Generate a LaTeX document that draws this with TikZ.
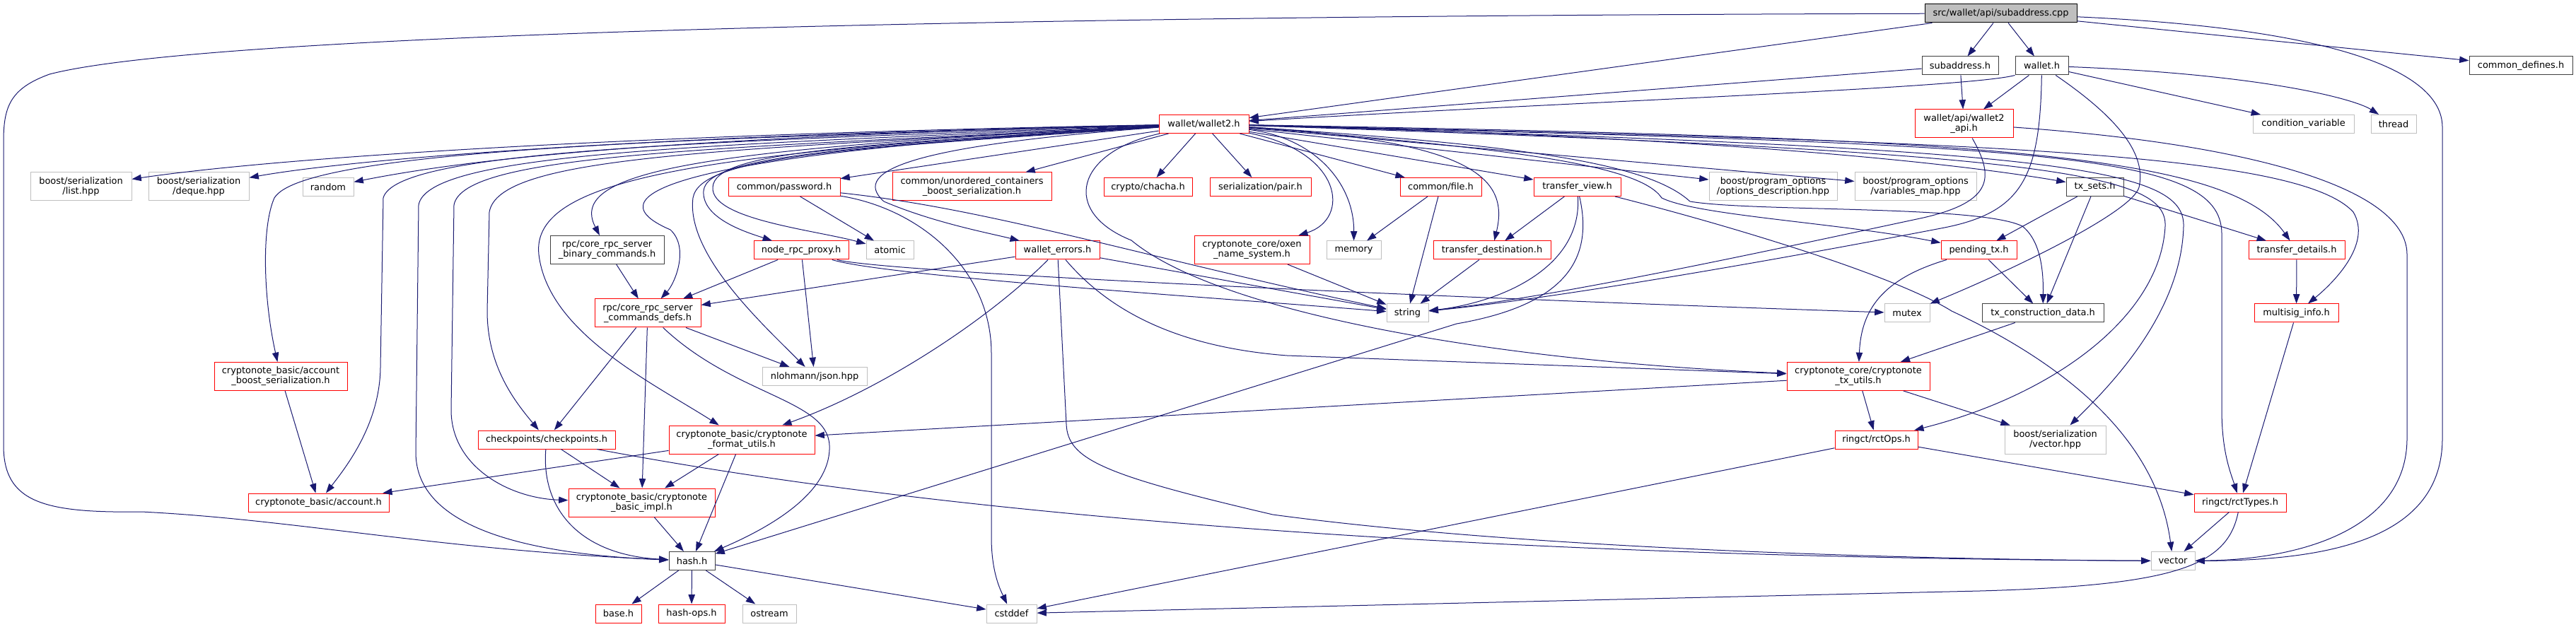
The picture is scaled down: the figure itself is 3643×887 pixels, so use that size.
\documentclass[tikz,border=0pt]{standalone}
\usepackage{fontspec}
\setmainfont{DejaVu Sans}
\usepackage{xcolor}
\usepackage{tikz}
\usetikzlibrary{arrows.meta}
\definecolor{edgeblue}{HTML}{191970}
\definecolor{boxgrey}{HTML}{404040}
\definecolor{extgrey}{HTML}{BFBFBF}

\begin{document}
\begin{tikzpicture}[x=0.75pt, y=-0.75pt,
    box/.style={draw=boxgrey, line width=0.75pt, fill=white, inner sep=0pt,
      minimum height=19.5pt, align=center, font=\fontsize{9.7}{10.5}\selectfont},
    trunc/.style={box, draw=red},
    ext/.style={box, draw=extgrey},
    root/.style={box, draw=black, fill=extgrey},
    tall/.style={minimum height=30pt},
    link/.style={-{Triangle[length=10pt, width=7pt]}, line width=0.75pt, draw=edgeblue}]
\useasboundingbox (0,0) rectangle (3643,887);
\node[root, minimum width=161.25pt] (cpp) at (2829.5,19) {src/wallet/api/subaddress.cpp};
\node[box, minimum width=81pt] (subh) at (2772,93) {subaddress.h};
\node[box, minimum width=56.25pt] (walh) at (2887.5,93) {wallet.h};
\node[box, minimum width=109.5pt] (cdefs) at (3565,93) {common\_defines.h};
\node[trunc, tall, minimum width=104.25pt] (wapi) at (2777.5,175) {wallet/api/wallet2\\\_api.h};
\node[ext, minimum width=107.25pt] (condvar) at (3257.5,175.5) {condition\_variable};
\node[ext, minimum width=48pt] (thread) at (3385,175.5) {thread};
\node[trunc, minimum width=95.25pt] (wal2) at (1702.5,175.5) {wallet/wallet2.h};
\node[ext, tall, minimum width=107.25pt] (slist) at (114.5,264) {boost/serialization\\/list.hpp};
\node[ext, tall, minimum width=106.5pt] (sdeque) at (281,264) {boost/serialization\\/deque.hpp};
\node[ext, minimum width=54pt] (random) at (464,264.5) {random};
\node[trunc, minimum width=118.5pt] (passwd) at (1109,264.5) {common/password.h};
\node[trunc, tall, minimum width=168.75pt] (unord) at (1374.5,264) {common/unordered\_containers\\\_boost\_serialization.h};
\node[trunc, minimum width=93.75pt] (chacha) at (1623.5,264.5) {crypto/chacha.h};
\node[trunc, minimum width=107.25pt] (pair) at (1782.5,264.5) {serialization/pair.h};
\node[trunc, minimum width=86.25pt] (cfile) at (2037.5,264.5) {common/file.h};
\node[trunc, minimum width=92.25pt] (tview) at (2230.5,264.5) {transfer\_view.h};
\node[ext, tall, minimum width=135.75pt] (optdesc) at (2507.5,264) {boost/program\_options\\/options\_description.hpp};
\node[ext, tall, minimum width=129pt] (varmap) at (2709,264) {boost/program\_options\\/variables\_map.hpp};
\node[box, minimum width=60.75pt] (txsets) at (2962.5,264.5) {tx\_sets.h};
\node[box, tall, minimum width=120.75pt] (bincmd) at (858.5,353.5) {rpc/core\_rpc\_server\\\_binary\_commands.h};
\node[trunc, minimum width=100.5pt] (proxy) at (1133,354) {node\_rpc\_proxy.h};
\node[ext, minimum width=50.25pt] (atomic) at (1258.5,354) {atomic};
\node[trunc, minimum width=89.25pt] (werr) at (1495.5,354) {wallet\_errors.h};
\node[trunc, tall, minimum width=122.25pt] (ons) at (1770.5,353.5) {cryptonote\_core/oxen\\\_name\_system.h};
\node[ext, minimum width=57.75pt] (memory) at (1914.5,354) {memory};
\node[trunc, minimum width=124.5pt] (tdest) at (2110,354) {transfer\_destination.h};
\node[trunc, minimum width=80.25pt] (pending) at (2798.5,354) {pending\_tx.h};
\node[trunc, minimum width=102pt] (tdetail) at (3248,354) {transfer\_details.h};
\node[trunc, tall, minimum width=112.5pt] (cmddefs) at (916,443) {rpc/core\_rpc\_server\\\_commands\_defs.h};
\node[ext, minimum width=44.25pt] (string) at (1990.5,443) {string};
\node[ext, minimum width=48pt] (mutex) at (2697,443) {mutex};
\node[box, minimum width=129pt] (txcons) at (2889,443) {tx\_construction\_data.h};
\node[trunc, minimum width=89.25pt] (msig) at (3247.5,443) {multisig\_info.h};
\node[trunc, tall, minimum width=141pt] (accboost) at (397,532.5) {cryptonote\_basic/account\\\_boost\_serialization.h};
\node[ext, minimum width=111pt] (json) at (1152,532.5) {nlohmann/json.hpp};
\node[trunc, tall, minimum width=151.5pt] (txutils) at (2628,532.5) {cryptonote\_core/cryptonote\\\_tx\_utils.h};
\node[trunc, minimum width=145.5pt] (ckpts) at (773,622) {checkpoints/checkpoints.h};
\node[trunc, tall, minimum width=154.5pt] (fmtutil) at (1049,622) {cryptonote\_basic/cryptonote\\\_format\_utils.h};
\node[trunc, minimum width=87.75pt] (rctops) at (2653.5,622) {ringct/rctOps.h};
\node[ext, tall, minimum width=107.25pt] (svector) at (2906.5,622) {boost/serialization\\/vector.hpp};
\node[trunc, minimum width=149.25pt] (account) at (450.5,711) {cryptonote\_basic/account.h};
\node[trunc, tall, minimum width=155.25pt] (bimpl) at (907.5,711) {cryptonote\_basic/cryptonote\\\_basic\_impl.h};
\node[trunc, minimum width=97.5pt] (rcttypes) at (3168,711) {ringct/rctTypes.h};
\node[box, minimum width=48.75pt] (hash) at (978.5,793.5) {hash.h};
\node[ext, minimum width=46.5pt] (vector) at (3073,793.5) {vector};
\node[trunc, minimum width=48.75pt] (base) at (874.5,868) {base.h};
\node[trunc, minimum width=70.5pt] (hashops) at (978,868) {hash-ops.h};
\node[ext, minimum width=57pt] (ostream) at (1088,868) {ostream};
\node[ext, minimum width=53.25pt] (cstddef) at (1430.5,868) {cstddef};
\draw[link] (cpp) -- (subh);
\draw[link] (cpp) -- (walh);
\draw[link] (cpp) -- (wal2);
\draw[link] (cpp) -- (cdefs);
\draw[link] (cpp) .. controls (1500,22) and (300,45) .. (70,105) .. controls (15,125) and (5,150) .. (5,200) -- (5,630) .. controls (5,710) and (60,726) .. (200,724) .. controls (420,735) and (620,778) .. (hash);
\draw[link] (cpp) .. controls (3300,40) and (3454,100) .. (3454,180) -- (3454,620) .. controls (3454,760) and (3300,793) .. (vector);
\draw[link] (subh) -- (wapi);
\draw[link] (subh) -- (wal2);
\draw[link] (walh) -- (wapi);
\draw[link] (walh.south west) .. controls (2780,125) and (2200,145) .. (wal2);
\draw[link] (walh) -- (condvar);
\draw[link] (walh) .. controls (3200,105) and (3330,140) .. (thread);
\draw[link] (walh) .. controls (2885,250) and (2860,300) .. (2750,322) .. controls (2500,370) and (2200,422) .. (string);
\draw[link] (walh) .. controls (3000,170) and (3035,220) .. (3025,265) .. controls (3015,300) and (2850,380) .. (mutex);
\draw[link] (wapi) .. controls (3200,205) and (3404,270) .. (3404,360) -- (3404,620) .. controls (3404,750) and (3250,792) .. (vector);
\draw[link] (wapi) .. controls (2820,250) and (2820,285) .. (2720,308) .. controls (2500,355) and (2200,420) .. (string);
\draw[link] (wal2) .. controls (900,190) and (400,222) .. (slist);
\draw[link] (wal2) .. controls (900,192) and (500,225) .. (sdeque);
\draw[link] (wal2) .. controls (900,195) and (650,228) .. (random);
\draw[link] (wal2) .. controls (1000,195) and (430,210) .. (388,280) .. controls (370,320) and (372,420) .. (accboost);
\draw[link] (wal2) .. controls (1000,200) and (560,212) .. (542,280) -- (538,520) .. controls (537,600) and (490,660) .. (account);
\draw[link] (wal2) .. controls (1000,205) and (605,215) .. (592,290) -- (588,640) .. controls (588,730) and (700,782) .. (hash);
\draw[link] (wal2) .. controls (1000,210) and (655,218) .. (642,290) -- (638,580) .. controls (638,660) and (720,705) .. (bimpl);
\draw[link] (wal2) .. controls (1000,212) and (705,222) .. (692,300) -- (689,440) .. controls (689,520) and (730,570) .. (ckpts);
\draw[link] (wal2) .. controls (1000,215) and (750,250) .. (762,360) .. controls (775,470) and (920,540) .. (fmtutil);
\draw[link] (wal2) .. controls (1000,210) and (800,240) .. (bincmd);
\draw[link] (wal2) .. controls (1000,215) and (820,270) .. (948,325) .. controls (975,350) and (955,400) .. (cmddefs);
\draw[link] (wal2) .. controls (1200,210) and (990,220) .. (980,280) .. controls (970,360) and (1080,460) .. (json);
\draw[link] (wal2) .. controls (1200,208) and (1000,220) .. (995,270) .. controls (992,310) and (1060,330) .. (proxy);
\draw[link] (wal2) .. controls (1200,205) and (1010,215) .. (1008,265) .. controls (1005,310) and (1150,325) .. (atomic);
\draw[link] (wal2) -- (passwd);
\draw[link] (wal2) -- (unord);
\draw[link] (wal2) .. controls (1300,205) and (1200,240) .. (1250,285) .. controls (1320,315) and (1400,330) .. (werr);
\draw[link] (wal2) -- (chacha);
\draw[link] (wal2) -- (pair);
\draw[link] (wal2) .. controls (1520,215) and (1500,300) .. (1600,340) .. controls (1720,440) and (2100,510) .. (txutils);
\draw[link] (wal2) .. controls (1900,215) and (1910,310) .. (ons);
\draw[link] (wal2) .. controls (1860,195) and (1915,260) .. (memory);
\draw[link] (wal2) -- (cfile);
\draw[link] (wal2) .. controls (2080,200) and (2135,250) .. (tdest);
\draw[link] (wal2) -- (tview);
\draw[link] (wal2) -- (optdesc);
\draw[link] (wal2) -- (varmap);
\draw[link] (wal2) .. controls (2300,190) and (2700,220) .. (txsets);
\draw[link] (wal2) .. controls (2150,210) and (2320,235) .. (2350,280) .. controls (2400,305) and (2600,315) .. (pending);
\draw[link] (wal2) .. controls (2150,205) and (2330,230) .. (2390,285) .. controls (2480,300) and (2800,290) .. (2860,320) .. controls (2885,340) and (2890,380) .. (txcons);
\draw[link] (wal2) .. controls (2800,195) and (3150,215) .. (tdetail);
\draw[link] (wal2) .. controls (2800,200) and (3250,215) .. (3328,300) .. controls (3355,345) and (3300,400) .. (msig);
\draw[link] (wal2) .. controls (2900,205) and (3140,215) .. (3142,330) -- (3142,580) .. controls (3142,640) and (3155,670) .. (rcttypes);
\draw[link] (wal2) .. controls (2900,210) and (3090,235) .. (3088,320) .. controls (3085,440) and (2990,540) .. (svector);
\draw[link] (wal2) .. controls (2900,215) and (3065,245) .. (3062,320) .. controls (3055,450) and (2900,560) .. (rctops);
\draw[link] (passwd) -- (atomic);
\draw[link] (passwd) .. controls (1300,295) and (1402,380) .. (1402,500) -- (1402,760) .. controls (1402,810) and (1415,835) .. (cstddef);
\draw[link] (passwd) .. controls (1400,295) and (1620,365) .. (string);
\draw[link] (proxy) -- (cmddefs);
\draw[link] (proxy) -- (json);
\draw[link] (proxy) .. controls (1250,390) and (1700,420) .. (string);
\draw[link] (proxy) .. controls (1250,385) and (2000,420) .. (mutex);
\draw[link] (bincmd) -- (cmddefs);
\draw[link] (cmddefs) -- (ckpts);
\draw[link] (cmddefs) -- (bimpl);
\draw[link] (cmddefs) -- (json);
\draw[link] (cmddefs) .. controls (1040,560) and (1170,565) .. (1173,630) .. controls (1176,700) and (1080,750) .. (hash);
\draw[link] (werr) -- (cmddefs);
\draw[link] (werr) .. controls (1400,450) and (1250,550) .. (fmtutil);
\draw[link] (werr) -- (1508,600) .. controls (1510,650) and (1560,672) .. (1800,728) .. controls (2200,782) and (2800,792) .. (vector);
\draw[link] (werr) .. controls (1560,430) and (1650,490) .. (1820,503) -- (txutils);
\draw[link] (werr) -- (string);
\draw[link] (ons) -- (string);
\draw[link] (cfile) -- (memory);
\draw[link] (cfile) -- (string);
\draw[link] (tview) -- (tdest);
\draw[link] (tview) .. controls (2238,380) and (2120,428) .. (string);
\draw[link] (tview) .. controls (2255,370) and (2210,432) .. (2060,458) -- (hash);
\draw[link] (tview) .. controls (2450,320) and (2680,390) .. (2760,440) .. controls (2920,515) and (3050,620) .. (vector);
\draw[link] (tdest) -- (string);
\draw[link] (txsets) -- (pending);
\draw[link] (txsets) -- (txcons);
\draw[link] (txsets) -- (tdetail);
\draw[link] (pending) -- (txcons);
\draw[link] (pending) .. controls (2660,395) and (2632,440) .. (txutils);
\draw[link] (txcons) -- (txutils);
\draw[link] (txutils) -- (rctops);
\draw[link] (txutils) -- (svector);
\draw[link] (txutils) -- (fmtutil);
\draw[link] (rctops) -- (cstddef);
\draw[link] (rctops) -- (rcttypes);
\draw[link] (tdetail) -- (msig);
\draw[link] (msig) -- (rcttypes);
\draw[link] (rcttypes) -- (vector);
\draw[link] (rcttypes) .. controls (3150,800) and (3080,828) .. (2800,836) -- (cstddef);
\draw[link] (fmtutil) -- (bimpl);
\draw[link] (fmtutil) -- (hash);
\draw[link] (fmtutil) -- (account);
\draw[link] (ckpts) -- (bimpl);
\draw[link] (ckpts) .. controls (765,720) and (820,785) .. (hash);
\draw[link] (ckpts) .. controls (1500,760) and (2400,790) .. (vector);
\draw[link] (bimpl) -- (hash);
\draw[link] (hash) -- (base);
\draw[link] (hash) -- (hashops);
\draw[link] (hash) -- (ostream);
\draw[link] (hash) -- (cstddef);
\draw[link] (accboost) -- (account);
\end{tikzpicture}
\end{document}
